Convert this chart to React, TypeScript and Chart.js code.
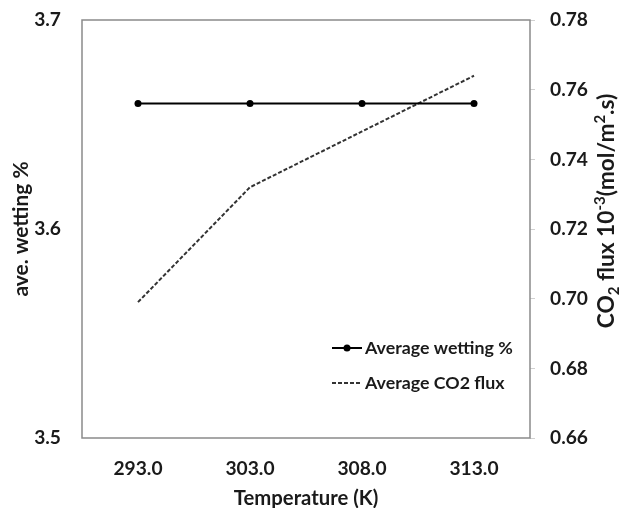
import { useEffect, useRef } from 'react';
import { Chart, registerables } from 'chart.js';

Chart.register(...registerables);

const temperatures = ['293.0', '303.0', '308.0', '313.0'];
const avgWetting = [3.66, 3.66, 3.66, 3.66];
const avgCO2Flux = [0.699, 0.732, 0.748, 0.764];
const legendLabels = ['Average wetting %', 'Average CO2 flux'];

const FONT = 'Lato, "Open Sans", sans-serif';
const TEXT = '#1a1a1a';

// font size that makes a text match the width it has in the reference
function fitSize(text: string, target: number): number {
  const c = document.createElement('canvas').getContext('2d')!;
  c.font = `bold 100px ${FONT}`;
  const w = c.measureText(text).width;
  return Math.round((100 * target / w) * 10) / 10;
}

const titleSegs: [string, number][] = [
  ['CO', 0],
  ['2', 1],
  [' flux 10', 0],
  ['-3', -1],
  ['(mol/m', 0],
  ['2', -1],
  ['.s)', 0],
];

const framePlugin = {
  id: 'frame',
  beforeDatasetsDraw(chart: any) {
    const { ctx, chartArea } = chart;
    const { left, top, right, bottom } = chartArea;
    ctx.save();
    ctx.strokeStyle = '#8a8a8a';
    ctx.lineWidth = 1.5;
    ctx.strokeRect(left, top, right - left, bottom - top);
    ctx.restore();
  },
};

function makeLegendPlugin(size: number) {
  return {
    id: 'insideLegend',
    afterDatasetsDraw(chart: any) {
      const { ctx } = chart;
      const x0 = 332;
      const x1 = 362;
      const ys = [348, 383];
      ctx.save();
      ctx.font = `bold ${size}px ${FONT}`;
      ctx.textBaseline = 'middle';
      ctx.textAlign = 'left';
      chart.data.datasets.forEach((ds: any, i: number) => {
        const y = ys[i];
        ctx.beginPath();
        ctx.strokeStyle = ds.borderColor;
        ctx.lineWidth = ds.borderWidth;
        ctx.setLineDash(ds.borderDash || []);
        ctx.moveTo(x0, y);
        ctx.lineTo(x1, y);
        ctx.stroke();
        ctx.setLineDash([]);
        if (ds.pointRadius > 0) {
          ctx.beginPath();
          ctx.fillStyle = ds.pointBackgroundColor;
          ctx.arc((x0 + x1) / 2, y, ds.pointRadius, 0, Math.PI * 2);
          ctx.fill();
        }
        ctx.fillStyle = TEXT;
        ctx.fillText(legendLabels[i], x1 + 3, y);
      });
      ctx.restore();
    },
  };
}

function makeRightTitlePlugin(bigSize: number) {
  return {
    id: 'rightTitle',
    afterDraw(chart: any) {
      const { ctx } = chart;
      const big = `bold ${bigSize}px ${FONT}`;
      const small = `bold ${Math.round(bigSize * 0.65)}px ${FONT}`;
      ctx.save();
      let total = 0;
      titleSegs.forEach(([t, k]) => {
        ctx.font = k === 0 ? big : small;
        total += ctx.measureText(t).width;
      });
      ctx.translate(607, 211);
      ctx.rotate(-Math.PI / 2);
      ctx.textBaseline = 'middle';
      ctx.textAlign = 'left';
      ctx.fillStyle = TEXT;
      let x = -total / 2;
      titleSegs.forEach(([t, k]) => {
        ctx.font = k === 0 ? big : small;
        const dy = k === 1 ? bigSize * 0.3 : k === -1 ? -bigSize * 0.3 : 0;
        ctx.fillText(t, x, dy);
        x += ctx.measureText(t).width;
      });
      ctx.restore();
    },
  };
}

export default function App() {
  const ref = useRef<HTMLCanvasElement>(null);
  useEffect(() => {
    if (!ref.current) return;
    const tickSize = fitSize('293.0', 49);
    const xTitleSize = fitSize('Temperature (K)', 145);
    const yTitleSize = fitSize('ave. wetting %', 135);
    const legendSize = fitSize('Average wetting %', 148);
    const c = document.createElement('canvas').getContext('2d')!;
    let w100 = 0;
    titleSegs.forEach(([t, k]) => {
      c.font = `bold ${k === 0 ? 100 : 65}px ${FONT}`;
      w100 += c.measureText(t).width;
    });
    const rFit = (100 * 252) / w100;
    const rTitleSize = Math.round(((rFit + yTitleSize) / 2) * 10) / 10;

    const chart = new Chart(ref.current, {
      type: 'line',
      data: {
        labels: temperatures,
        datasets: [
          {
            label: legendLabels[0],
            data: avgWetting,
            yAxisID: 'y',
            borderColor: '#000000',
            backgroundColor: '#000000',
            borderWidth: 2,
            pointRadius: 3.5,
            pointBackgroundColor: '#000000',
            pointBorderWidth: 0,
            tension: 0,
          },
          {
            label: legendLabels[1],
            data: avgCO2Flux,
            yAxisID: 'y1',
            borderColor: '#333333',
            backgroundColor: '#333333',
            borderWidth: 2,
            borderDash: [4, 2],
            pointRadius: 0,
            tension: 0,
          },
        ],
      },
      options: {
        responsive: false,
        maintainAspectRatio: false,
        animation: false,
        devicePixelRatio: 1,
        layout: { padding: { top: 20, left: 0, right: 0, bottom: 0 } },
        plugins: { legend: { display: false }, tooltip: { enabled: false } },
        scales: {
          x: {
            offset: true,
            grid: { display: false, drawTicks: false },
            border: { display: false },
            ticks: { color: TEXT, padding: 19, font: { family: FONT, size: tickSize, weight: 'bold' } },
            title: {
              display: true,
              text: 'Temperature (K)',
              color: TEXT,
              padding: { top: 0, bottom: -3 },
              font: { family: FONT, size: xTitleSize, weight: 'bold' },
            },
            afterFit(scale: any) {
              scale.height = 70;
              scale.paddingLeft = 0;
              scale.paddingRight = 0;
            },
          },
          y: {
            position: 'left',
            min: 3.5,
            max: 3.7,
            grid: { display: false, drawTicks: false },
            border: { display: false },
            ticks: {
              stepSize: 0.1,
              color: TEXT,
              padding: 21,
              font: { family: FONT, size: tickSize, weight: 'bold' },
              callback: (v: any) => Number(v).toFixed(1),
            },
            title: {
              display: true,
              text: 'ave. wetting %',
              color: TEXT,
              padding: { top: 9, bottom: 0 },
              font: { family: FONT, size: yTitleSize, weight: 'bold' },
            },
            afterFit(scale: any) {
              scale.width = 82;
              scale.paddingTop = 0;
              scale.paddingBottom = 0;
            },
          },
          y1: {
            position: 'right',
            min: 0.66,
            max: 0.78,
            grid: { drawOnChartArea: false, drawTicks: true, tickLength: 5, color: '#d0d0d0' },
            border: { display: false },
            ticks: {
              stepSize: 0.02,
              color: TEXT,
              padding: 15,
              font: { family: FONT, size: tickSize, weight: 'bold' },
              callback: (v: any) => Number(v).toFixed(2),
            },
            afterFit(scale: any) {
              scale.width = 89;
              scale.paddingTop = 0;
              scale.paddingBottom = 0;
            },
          },
        },
      },
      plugins: [framePlugin, makeLegendPlugin(legendSize), makeRightTitlePlugin(rTitleSize)],
    } as any);
    return () => chart.destroy();
  }, []);
  return (
    <div style={{ position: 'fixed', left: 0, top: 0, width: 619, height: 508, background: '#fff' }}>
      <canvas ref={ref} width={619} height={508} />
    </div>
  );
}
